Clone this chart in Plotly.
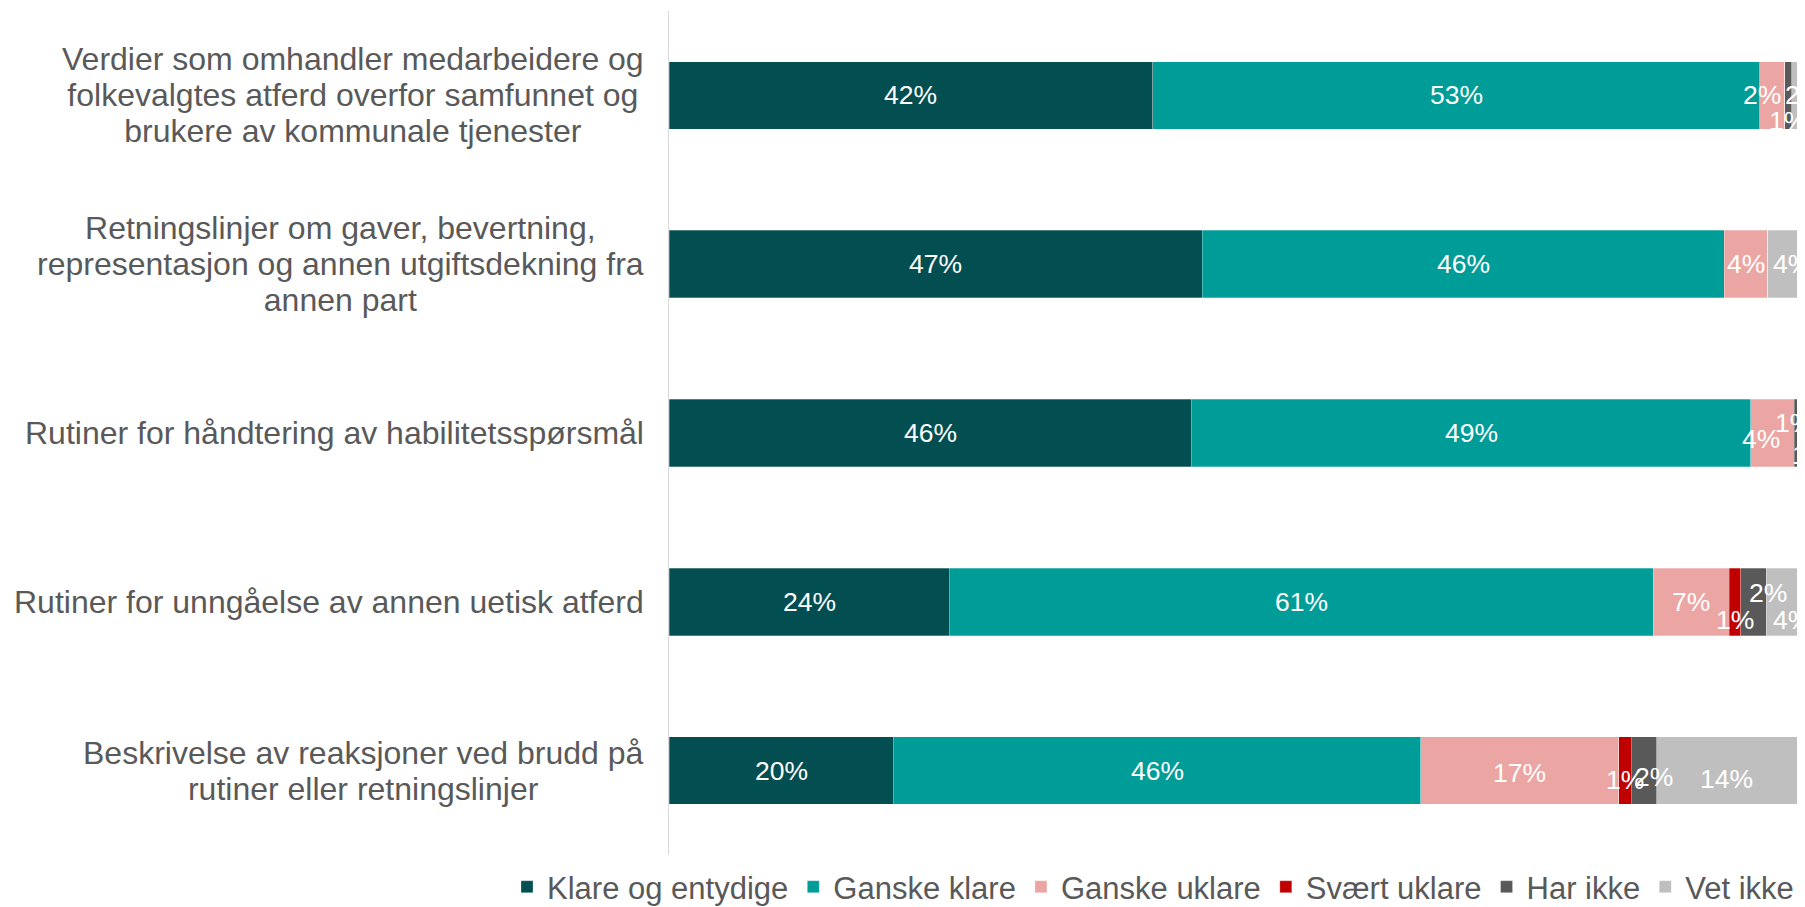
import plotly.graph_objects as go

# ---------------- data ----------------
categories = [
    "Verdier som omhandler medarbeidere og folkevalgtes atferd overfor samfunnet og brukere av kommunale tjenester",
    "Retningslinjer om gaver, bevertning, representasjon og annen utgiftsdekning fra annen part",
    "Rutiner for håndtering av habilitetsspørsmål",
    "Rutiner for unngåelse av annen uetisk atferd",
    "Beskrivelse av reaksjoner ved brudd på rutiner eller retningslinjer",
]
category_lines = [
    ["Verdier som omhandler medarbeidere og", "folkevalgtes atferd overfor samfunnet og", "brukere av kommunale tjenester"],
    ["Retningslinjer om gaver, bevertning,", "representasjon og annen utgiftsdekning fra", "annen part"],
    ["Rutiner for håndtering av habilitetsspørsmål"],
    ["Rutiner for unngåelse av annen uetisk atferd"],
    ["Beskrivelse av reaksjoner ved brudd på", "rutiner eller retningslinjer"],
]
series_names = ["Klare og entydige", "Ganske klare", "Ganske uklare", "Svært uklare", "Har ikke", "Vet ikke"]
klare = [42.2, 46.6, 45.6, 24.3, 19.6]
ganske_klare = [53.0, 45.6, 48.7, 61.1, 46.0]
ganske_uklare = [2.2, 3.8, 3.8, 6.6, 17.3]
svaert_uklare = [0.0, 0.0, 0.0, 1.0, 1.1]
har_ikke = [0.6, 0.0, 1.0, 2.2, 2.2]
vet_ikke = [2.2, 4.3, 1.0, 4.4, 14.0]
series_values = [klare, ganske_klare, ganske_uklare, svaert_uklare, har_ikke, vet_ikke]

# ---------------- style ----------------
colors = ["#034E51", "#009C98", "#EBA5A2", "#C00000", "#595959", "#BFBFBF"]
FONT = "Liberation Sans, Arial, sans-serif"
TEXT_GRAY = "#595959"
# page body has an 8px default margin; size the figure so it fills the window
W, H = 1797, 899
M_L, M_R, M_T, M_B = 661, 0, 3, 52
X_MAX = 98.95
PX_PER_UNIT = (W - M_L - M_R) / X_MAX

# manual label nudges (row, series) -> (dx px, dy px downward)
label_nudge = {
    (0, 2): (-10, 0), (0, 4): (0, 26),
    (2, 2): (-11, 6), (2, 4): (-6, -10), (2, 5): (0, 22),
    (3, 3): (0, 18), (3, 4): (14, -9), (3, 5): (0, 18),
    (4, 2): (0, 2), (4, 3): (0, 9), (4, 4): (10, 6), (4, 5): (-10, 8),
}

fig = go.Figure()
for name, vals, col in zip(series_names, series_values, colors):
    fig.add_trace(go.Bar(
        y=categories, x=vals, name=name, orientation="h",
        marker=dict(color=col, line=dict(color="rgba(255,255,255,0.35)", width=0.8)),
        textposition="none", hoverinfo="skip",
    ))

annotations = []
# data labels (normalised like a 100% stacked bar)
for r, cat in enumerate(categories):
    total = sum(s[r] for s in series_values)
    cum = 0.0
    for si, s in enumerate(series_values):
        v = s[r]
        w = v / total * 100
        if v > 0:
            center = cum + w / 2
            dx, dy = label_nudge.get((r, si), (0, 0))
            xa = min(center, X_MAX - 0.01)
            annotations.append(dict(
                x=xa, y=cat, xref="x", yref="y",
                text=f"{int(v + 0.5)}%", showarrow=False,
                xshift=(center - xa) * PX_PER_UNIT + dx, yshift=-dy,
                font=dict(family=FONT, size=26.5, color="white"),
            ))
        cum += w

# category labels (centred lines, block right-aligned)
for cat, lines in zip(categories, category_lines):
    txt = "<br>".join(f"<span style='font-size:32px'>{ln}</span>" for ln in lines)
    annotations.append(dict(
        x=0, y=cat, xref="paper", yref="y", xanchor="right", yanchor="middle",
        xshift=-23, align="center", showarrow=False, text=txt,
        font=dict(family=FONT, size=27.7, color=TEXT_GRAY),
    ))

fig.update_layout(
    width=W, height=H,
    margin=dict(l=M_L, r=M_R, t=M_T, b=M_B, pad=0, autoexpand=False),
    barmode="stack", barnorm="percent", bargap=0.6,
    paper_bgcolor="white", plot_bgcolor="white",
    xaxis=dict(range=[0, X_MAX], visible=False, showgrid=False, zeroline=False, fixedrange=True),
    yaxis=dict(autorange="reversed", showticklabels=False, ticks="", showgrid=False,
               showline=True, linecolor="#D9D9D9", linewidth=1, zeroline=False),
    legend=dict(orientation="h", xref="paper", yref="paper",
                x=-0.1426, xanchor="left", y=-0.038, yanchor="middle",
                font=dict(family=FONT, size=31, color=TEXT_GRAY),
                traceorder="normal", itemwidth=30, bgcolor="rgba(0,0,0,0)"),
    annotations=annotations,
    showlegend=True,
)

fig.write_html("out.html")
